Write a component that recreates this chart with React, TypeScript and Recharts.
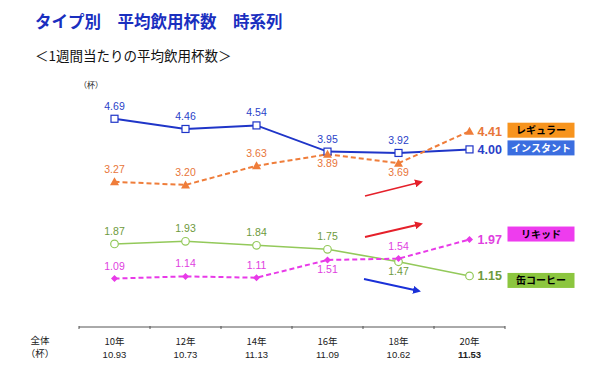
import React from 'react';
import { LineChart, Line, XAxis, YAxis } from 'recharts';

const years = ['10年', '12年', '14年', '16年', '18年', '20年'];
const totals = ['10.93', '10.73', '11.13', '11.09', '10.62', '11.53'];
const regular = [3.27, 3.2, 3.63, 3.89, 3.69, 4.41];
const instant = [4.69, 4.46, 4.54, 3.95, 3.92, 4.0];
const liquid = [1.09, 1.14, 1.11, 1.51, 1.54, 1.97];
const canned = [1.87, 1.93, 1.84, 1.75, 1.47, 1.15];

const data = years.map((y, i) => ({
  year: y,
  total: totals[i],
  regular: regular[i],
  instant: instant[i],
  liquid: liquid[i],
  canned: canned[i],
}));

const W = 600;
const H = 365;
const AXIS_H = 30;
const margin = { top: 105, right: 95, left: 79, bottom: 38 - AXIS_H };
const HALF = (W - margin.left - margin.right) / years.length / 2;
const LAST = years.length - 1;

const NUM_FONT = '"Liberation Sans", Arial, sans-serif';
const JP_FONT = '"Noto Sans CJK JP", "Liberation Sans", sans-serif';

type Series = {
  key: string;
  name: string;
  color: string;
  text: string;
  box: string;
  boxText: string;
  boxDy: number;
  below: number[];
};

const series: Series[] = [
  { key: 'instant', name: 'インスタント', color: '#1f35c8', text: '#2a3fc8', box: '#3b6ee0', boxText: '#fff', boxDy: -1.5, below: [] },
  { key: 'regular', name: 'レギュラー', color: '#ef7d3a', text: '#e8763a', box: '#f7941e', boxText: '#000', boxDy: -1, below: [3, 4] },
  { key: 'canned', name: '缶コーヒー', color: '#93c95a', text: '#6e9a3c', box: '#8cc63f', boxText: '#000', boxDy: 4.5, below: [4] },
  { key: 'liquid', name: 'リキッド', color: '#e83ae8', text: '#e040e0', box: '#ee3cee', boxText: '#000', boxDy: -5.5, below: [3] },
];

const makeLabel = (s: Series) => (props: any) => {
  const { x, y, index, value } = props;
  if (index === LAST) {
    return (
      <g>
        <text x={x + 8} y={y + 4.5} fontSize={12.5} fontWeight="bold" fill={s.text} fontFamily={NUM_FONT}>
          {Number(value).toFixed(2)}
        </text>
        <rect x={x + 38} y={y - 7.5 + s.boxDy} width={67} height={15} fill={s.box} />
        <text
          x={x + 71.5}
          y={y + 4 + s.boxDy}
          textAnchor="middle"
          fontSize={10}
          fontWeight="bold"
          fill={s.boxText}
          fontFamily={JP_FONT}
        >
          {s.name}
        </text>
      </g>
    );
  }
  const below = s.below.includes(index);
  return (
    <text
      x={x}
      y={below ? y + 13 : y - 9}
      textAnchor="middle"
      fontSize={10.5}
      fill={s.text}
      fontFamily={NUM_FONT}
    >
      {Number(value).toFixed(2)}
    </text>
  );
};

const makeDot = (key: string, color: string) => (props: any) => {
  const { cx, cy, index } = props;
  if (cx == null || cy == null) return <g key={index} />;
  if (key === 'instant')
    return <rect key={index} x={cx - 3.5} y={cy - 3.5} width={7} height={7} fill="#fff" stroke={color} strokeWidth={1.2} />;
  if (key === 'regular')
    return <path key={index} d={`M${cx},${cy - 4.5}L${cx + 4.5},${cy + 3.5}L${cx - 4.5},${cy + 3.5}Z`} fill={color} />;
  if (key === 'canned')
    return <circle key={index} cx={cx} cy={cy} r={3.8} fill="#fff" stroke={color} strokeWidth={1.2} />;
  return <path key={index} d={`M${cx},${cy - 3.5}L${cx + 3.5},${cy}L${cx},${cy + 3.5}L${cx - 3.5},${cy}Z`} fill={color} />;
};

const YearTick = (props: any) => {
  const { x, y, payload, index } = props;
  const last = index === LAST;
  return (
    <g>
      <line x1={x - HALF} x2={x - HALF} y1={y - 3} y2={y} stroke="#555" />
      {last && <line x1={x + HALF} x2={x + HALF} y1={y - 3} y2={y} stroke="#555" />}
      <text x={x} y={y + 16} textAnchor="middle" fontSize={9.5} fill="#222" fontFamily={JP_FONT}>
        {payload.value}
      </text>
      <text
        x={x}
        y={y + 29}
        textAnchor="middle"
        fontSize={9.5}
        fontWeight={last ? 'bold' : 'normal'}
        fill="#222"
        fontFamily={NUM_FONT}
      >
        {totals[index]}
      </text>
    </g>
  );
};

const lineStyle: Record<string, { width: number; dash?: string }> = {
  instant: { width: 2 },
  regular: { width: 2, dash: '5 3' },
  canned: { width: 1.6 },
  liquid: { width: 2, dash: '5 3' },
};

export default function App() {
  return (
    <div style={{ position: 'absolute', left: 0, top: 0, width: W, height: H, background: '#fff' }}>
      <div
        style={{
          position: 'absolute',
          left: 35,
          top: 9,
          fontFamily: JP_FONT,
          fontWeight: 'bold',
          fontSize: 16.5,
          color: '#1a2fbf',
          whiteSpace: 'pre',
        }}
      >
        タイプ別　平均飲用杯数　時系列
      </div>
      <div style={{ position: 'absolute', left: 35, top: 45, fontFamily: JP_FONT, fontSize: 13.5, color: '#111' }}>
        ＜1週間当たりの平均飲用杯数＞
      </div>
      <div style={{ position: 'absolute', left: 79, top: 79, fontFamily: JP_FONT, fontSize: 8, color: '#222' }}>
        （杯）
      </div>
      <LineChart width={W} height={H} data={data} margin={margin}>
        <XAxis
          dataKey="year"
          height={AXIS_H}
          padding={{ left: HALF, right: HALF }}
          axisLine={{ stroke: '#555' }}
          tickLine={false}
          tickSize={0}
          tick={<YearTick />}
          interval={0}
        />
        <YAxis hide domain={[0, 5]} />
        {series.map((s) => (
          <Line
            key={s.key}
            dataKey={s.key}
            stroke={s.color}
            strokeWidth={lineStyle[s.key].width}
            strokeDasharray={lineStyle[s.key].dash}
            type="linear"
            dot={makeDot(s.key, s.color)}
            activeDot={false}
            label={makeLabel(s)}
            isAnimationActive={false}
          />
        ))}
        <text x={40} y={344} textAnchor="middle" fontSize={9.5} fill="#222" fontFamily={JP_FONT}>
          全体
        </text>
        <text x={40} y={357} textAnchor="middle" fontSize={9.5} fill="#222" fontFamily={JP_FONT}>
          （杯）
        </text>
      </LineChart>
      <svg width={W} height={H} style={{ position: 'absolute', left: 0, top: 0, pointerEvents: 'none' }}>
        <defs>
          <marker id="ar" markerWidth="8" markerHeight="8" refX="6" refY="4" orient="auto" markerUnits="userSpaceOnUse">
            <path d="M0,0L8,4L0,8Z" fill="#e5202a" />
          </marker>
          <marker id="ab" markerWidth="8" markerHeight="8" refX="6" refY="4" orient="auto" markerUnits="userSpaceOnUse">
            <path d="M0,0L8,4L0,8Z" fill="#1a30d8" />
          </marker>
        </defs>
        <line x1={365} y1={196} x2={421} y2={182} stroke="#e5202a" strokeWidth={1.8} markerEnd="url(#ar)" />
        <line x1={365} y1={237} x2={421} y2={224} stroke="#e5202a" strokeWidth={1.8} markerEnd="url(#ar)" />
        <line x1={364} y1={279} x2={419} y2={291} stroke="#1a30d8" strokeWidth={1.8} markerEnd="url(#ab)" />
      </svg>
    </div>
  );
}
